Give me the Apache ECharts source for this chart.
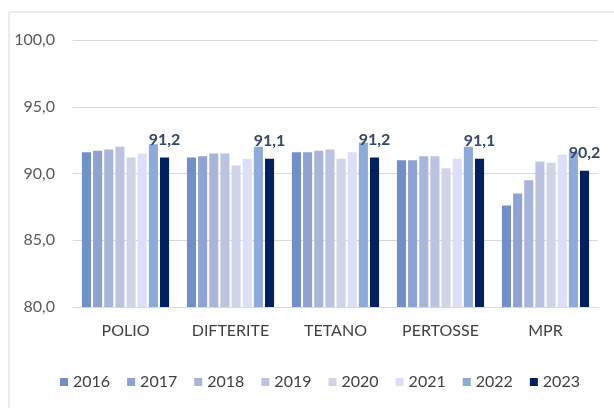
<!DOCTYPE html>
<html lang="it">
<head>
    <meta charset="utf-8">
    <title></title>
    <script src="https://cdn.jsdelivr.net/npm/echarts@6/dist/echarts.min.js"></script>
    <style>
        html, body {margin: 0; padding: 0; background: #fff;}
        #main {width: 614px; height: 408px;}
    </style>
</head>
<body>
<div id="main"></div>
<script type="text/javascript">
    // dati
    var categorie = ['POLIO', 'DIFTERITE', 'TETANO', 'PERTOSSE', 'MPR'];
    var anni = ['2016', '2017', '2018', '2019', '2020', '2021', '2022', '2023'];
    var v2016 = [91.6, 91.2, 91.6, 91.0, 87.6];
    var v2017 = [91.7, 91.3, 91.6, 91.0, 88.5];
    var v2018 = [91.8, 91.5, 91.7, 91.3, 89.5];
    var v2019 = [92.0, 91.5, 91.8, 91.3, 90.9];
    var v2020 = [91.2, 90.6, 91.1, 90.4, 90.8];
    var v2021 = [91.5, 91.1, 91.6, 91.1, 91.4];
    var v2022 = [92.2, 92.0, 92.3, 92.0, 91.6];
    var v2023 = [91.2, 91.1, 91.2, 91.1, 90.2];
    var colori = ['#7190c9', '#8fa2d4', '#a8b5da', '#bcc3e2', '#cfd4e9', '#dddef9', '#8eaadb', '#002060'];
    var yTicks = [80, 85, 90, 95, 100];

    var valori = [v2016, v2017, v2018, v2019, v2020, v2021, v2022, v2023];
    var font = 'Lato';

    var myChart = echarts.init(document.getElementById('main'));

    var series = [];
    for (var i = 0; i < anni.length; i++) {
        var s = {
            name: anni[i],
            type: 'bar',
            data: valori[i],
            itemStyle: {color: colori[i]},
            barGap: '23%',
            barCategoryGap: '17%'
        };
        if (i == anni.length - 1) {
            s.label = {
                show: true,
                position: 'top',
                distance: 10,
                color: '#33466b',
                fontFamily: font,
                fontWeight: 'bold',
                fontSize: 16,
                formatter: function (p) {
                    return p.value.toFixed(1).replace('.', ',');
                }
            };
        }
        series.push(s);
    }

    var option = {
        animation: false,
        textStyle: {fontFamily: font},
        graphic: [{
            type: 'rect',
            shape: {x: 9, y: 12, width: 700, height: 500},
            style: {fill: 'none', stroke: '#d9d9d9', lineWidth: 1}
        }],
        legend: {
            data: anni,
            bottom: 13,
            left: 55,
            itemWidth: 8,
            itemHeight: 8,
            itemGap: 17,
            icon: 'rect',
            textStyle: {fontSize: 16, color: '#404040', fontFamily: font}
        },
        grid: {
            left: 73,
            right: 16,
            top: 40,
            bottom: 101,
            containLabel: false
        },
        xAxis: {
            type: 'category',
            data: categorie,
            axisTick: {show: false},
            axisLine: {lineStyle: {color: '#d9d9d9', width: 1}},
            axisLabel: {
                color: '#404040',
                fontSize: 16,
                fontFamily: font,
                margin: 16
            }
        },
        yAxis: {
            type: 'value',
            min: yTicks[0],
            max: yTicks[yTicks.length - 1],
            interval: 5,
            axisLine: {show: false},
            axisTick: {show: false},
            splitLine: {lineStyle: {color: '#d9d9d9', width: 1}},
            axisLabel: {
                color: '#595959',
                fontSize: 16,
                fontFamily: font,
                margin: 18,
                formatter: function (v) {
                    return v.toFixed(1).replace('.', ',');
                }
            }
        },
        series: series
    };
    myChart.setOption(option);
</script>
</body>
</html>
